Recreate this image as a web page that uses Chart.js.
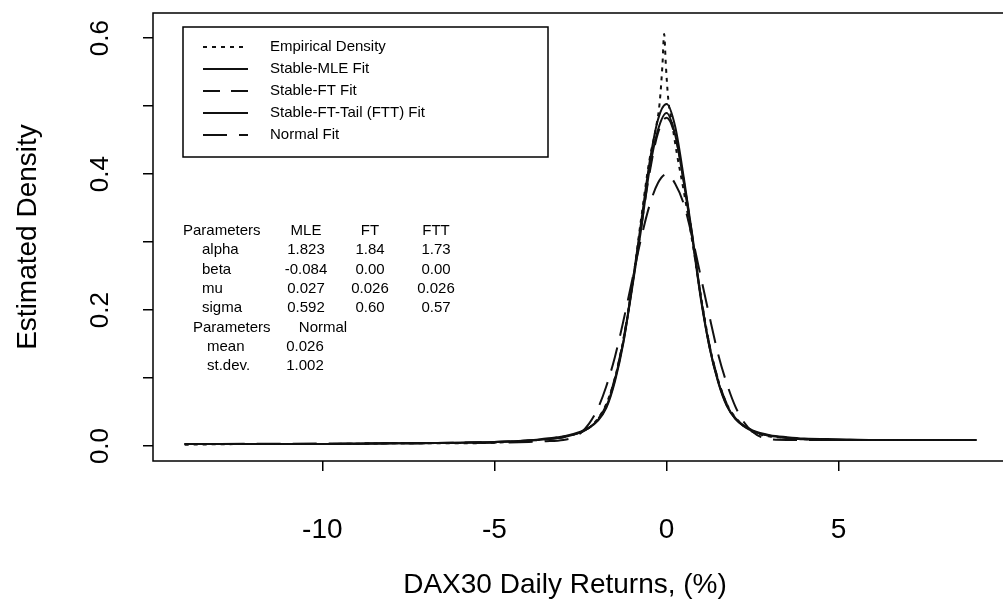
<!DOCTYPE html>
<html>
<head>
<meta charset="utf-8">
<script src="https://cdn.jsdelivr.net/npm/chart.js@4.4.1/dist/chart.umd.min.js"></script>
<style>
  html, body { margin: 0; padding: 0; background: #fff; overflow: hidden; }
  canvas { display: block; }
</style>
</head>
<body>
<canvas id="c" width="1008" height="605"></canvas>
<script>
// Axis ticks
const xTickValues = [-10, -5, 0, 5];
const yTickValues = [0, 0.1, 0.2, 0.3, 0.4, 0.5, 0.6];
const yTickLabels = ["0.0", "", "0.2", "", "0.4", "", "0.6"];

// Series names (legend order)
const seriesNames = ["Empirical Density", "Stable-MLE Fit", "Stable-FT Fit", "Stable-FT-Tail (FTT) Fit", "Normal Fit"];

// Return grid (%) shared by the fitted stable densities
const fitX = [-14, -12, -10, -8, -6, -5, -4, -3.5, -3, -2.5, -2.25, -2, -1.75, -1.5, -1.25, -1, -0.75, -0.5, -0.25, 0,
              0.25, 0.5, 0.75, 1, 1.25, 1.5, 1.75, 2, 2.25, 2.5, 3, 3.5, 4, 5, 6, 8, 9];
const mleY = [0.003, 0.003, 0.003, 0.004, 0.005, 0.006, 0.008, 0.010, 0.013, 0.020, 0.027, 0.038, 0.058, 0.098, 0.155, 0.232, 0.315, 0.405, 0.465, 0.490,
              0.458, 0.388, 0.305, 0.215, 0.145, 0.095, 0.060, 0.040, 0.029, 0.022, 0.015, 0.012, 0.010, 0.009, 0.009, 0.009, 0.009];
const ftY  = [0.003, 0.003, 0.003, 0.004, 0.005, 0.006, 0.008, 0.010, 0.013, 0.020, 0.027, 0.039, 0.060, 0.100, 0.158, 0.235, 0.318, 0.400, 0.460, 0.483,
              0.456, 0.390, 0.308, 0.218, 0.148, 0.097, 0.062, 0.041, 0.029, 0.022, 0.015, 0.012, 0.010, 0.009, 0.009, 0.009, 0.009];
const fttY = [0.003, 0.003, 0.003, 0.004, 0.005, 0.006, 0.008, 0.011, 0.014, 0.021, 0.027, 0.037, 0.056, 0.095, 0.153, 0.236, 0.325, 0.415, 0.480, 0.503,
              0.470, 0.395, 0.310, 0.218, 0.145, 0.094, 0.059, 0.040, 0.030, 0.023, 0.016, 0.013, 0.011, 0.010, 0.009, 0.009, 0.009];

// Kernel estimate of the daily returns
const empX = [-14, -12, -10, -8, -6, -5, -4, -3.5, -3, -2.5, -2.25, -2, -1.75, -1.5, -1.25, -1, -0.75, -0.5, -0.3, -0.2, -0.12, -0.07,
              -0.02, 0.05, 0.15, 0.3, 0.5, 0.75, 1, 1.25, 1.5, 1.75, 2, 2.25, 2.5, 3, 3.5, 4, 5, 6, 8, 9];
const empY = [0.002, 0.003, 0.003, 0.004, 0.004, 0.005, 0.008, 0.010, 0.014, 0.020, 0.027, 0.040, 0.062, 0.100, 0.158, 0.235, 0.330, 0.420, 0.470, 0.505, 0.560, 0.606,
              0.560, 0.510, 0.478, 0.430, 0.375, 0.300, 0.220, 0.148, 0.097, 0.062, 0.042, 0.030, 0.021, 0.014, 0.012, 0.010, 0.009, 0.009, 0.009, 0.009];

// Normal fit
const normX = [-14, -8, -5, -4, -3.5, -3, -2.75, -2.5, -2.25, -2, -1.75, -1.5, -1.25, -1, -0.75, -0.5, -0.25, 0,
               0.25, 0.5, 0.75, 1, 1.25, 1.5, 1.75, 2, 2.25, 2.5, 2.75, 3, 3.5, 4, 5, 9];
const normY = [0.003, 0.004, 0.005, 0.006, 0.007, 0.009, 0.012, 0.019, 0.033, 0.055, 0.088, 0.131, 0.185, 0.244, 0.303, 0.353, 0.387, 0.400,
               0.386, 0.356, 0.306, 0.248, 0.190, 0.135, 0.092, 0.058, 0.035, 0.021, 0.013, 0.010, 0.009, 0.009, 0.009, 0.009];

// Parameter table
const paramHeader = ["Parameters", "MLE", "FT", "FTT"];
const paramRows = [
  ["alpha", "1.823", "1.84", "1.73"],
  ["beta", "-0.084", "0.00", "0.00"],
  ["mu", "0.027", "0.026", "0.026"],
  ["sigma", "0.592", "0.60", "0.57"]
];
const normalHeader = ["Parameters", "Normal"];
const normalRows = [
  ["mean", "0.026"],
  ["st.dev.", "1.002"]
];

const FONT = "'Liberation Sans', Arial, Helvetica, sans-serif";
Chart.defaults.font.family = FONT;
Chart.defaults.color = '#000';

const pts = (xs, ys) => xs.map((x, i) => ({x: x, y: ys[i]}));
const INK = '#111';

const datasets = [
  {label: seriesNames[0], data: pts(empX, empY), borderDash: [4, 5]},
  {label: seriesNames[1], data: pts(fitX, mleY), borderDash: []},
  {label: seriesNames[2], data: pts(fitX, ftY), borderDash: [17, 11]},
  {label: seriesNames[3], data: pts(fitX, fttY), borderDash: []},
  {label: seriesNames[4], data: pts(normX, normY), borderDash: [24, 12]}
].map(d => Object.assign(d, {
  borderColor: INK, backgroundColor: INK, borderWidth: 2,
  pointRadius: 0, fill: false, cubicInterpolationMode: 'monotone'
}));

// Frame, rotated y labels, x title, legend box and parameter text
const annotate = {
  id: 'annotate',
  afterDraw(chart) {
    const {ctx, chartArea: a, scales} = chart;
    ctx.save();
    ctx.strokeStyle = '#000';
    ctx.lineWidth = 1.5;
    ctx.strokeRect(a.left, a.top, a.right - a.left, a.bottom - a.top);

    // y tick labels, reading upward
    ctx.fillStyle = '#000';
    ctx.font = "26px " + FONT;
    ctx.textAlign = 'center';
    ctx.textBaseline = 'middle';
    yTickValues.forEach((v, i) => {
      if (!yTickLabels[i]) return;
      const y = scales.y.getPixelForValue(v);
      ctx.save();
      ctx.translate(101, y);
      ctx.rotate(-Math.PI / 2);
      ctx.fillText(yTickLabels[i], 0, 0);
      ctx.restore();
    });

    // x axis title
    ctx.font = "28px " + FONT;
    ctx.fillText('DAX30 Daily Returns, (%)', 565, 585);

    // legend
    ctx.lineWidth = 1.5;
    ctx.strokeRect(183, 27, 365, 130);
    ctx.font = "15px " + FONT;
    ctx.textAlign = 'left';
    chart.data.datasets.forEach((d, i) => {
      const y = 47 + i * 22;
      ctx.save();
      ctx.strokeStyle = INK;
      ctx.lineWidth = 2;
      ctx.setLineDash(d.borderDash);
      ctx.beginPath();
      ctx.moveTo(203, y);
      ctx.lineTo(248, y);
      ctx.stroke();
      ctx.restore();
      ctx.fillText(d.label, 270, y);
    });

    // parameter table
    const rowY = k => 231 + k * 19.3;
    const cols = [306, 370, 436];
    ctx.textAlign = 'left';
    ctx.fillText(paramHeader[0], 183, rowY(0));
    ctx.textAlign = 'center';
    paramHeader.slice(1).forEach((t, j) => ctx.fillText(t, cols[j], rowY(0)));
    paramRows.forEach((r, k) => {
      ctx.textAlign = 'left';
      ctx.fillText(r[0], 202, rowY(k + 1));
      ctx.textAlign = 'center';
      r.slice(1).forEach((t, j) => ctx.fillText(t, cols[j], rowY(k + 1)));
    });
    ctx.textAlign = 'left';
    ctx.fillText(normalHeader[0], 193, rowY(5));
    ctx.textAlign = 'center';
    ctx.fillText(normalHeader[1], 323, rowY(5));
    normalRows.forEach((r, k) => {
      ctx.textAlign = 'left';
      ctx.fillText(r[0], 207, rowY(6 + k));
      ctx.textAlign = 'center';
      ctx.fillText(r[1], 305, rowY(6 + k));
    });
    ctx.restore();
  }
};

new Chart(document.getElementById('c'), {
  type: 'line',
  data: {datasets: datasets},
  plugins: [annotate],
  options: {
    responsive: false,
    animation: false,
    events: [],
    layout: {padding: {top: 13, left: 0, right: 0, bottom: 0}},
    plugins: {legend: {display: false}, tooltip: {enabled: false}},
    scales: {
      x: {
        type: 'linear',
        min: -14.92, max: 9.92,
        afterBuildTicks: s => { s.ticks = xTickValues.map(v => ({value: v})); },
        afterFit: s => { s.height = 144; },
        border: {display: false},
        grid: {drawOnChartArea: false, drawTicks: true, tickLength: 10, color: '#000', lineWidth: 1.5},
        ticks: {color: '#000', font: {size: 28}, padding: 42, maxRotation: 0, autoSkip: false,
                callback: v => String(v)},
        title: {display: false}
      },
      y: {
        type: 'linear',
        min: -0.022, max: 0.637,
        afterBuildTicks: s => { s.ticks = yTickValues.map(v => ({value: v})); },
        afterFit: s => { s.width = 153; },
        border: {display: false},
        grid: {drawOnChartArea: false, drawTicks: true, tickLength: 10, color: '#000', lineWidth: 1.5},
        ticks: {display: false},
        title: {display: true, text: 'Estimated Density', color: '#000', font: {size: 28},
                padding: {top: 11, bottom: 0}}
      }
    }
  }
});
</script>
</body>
</html>
